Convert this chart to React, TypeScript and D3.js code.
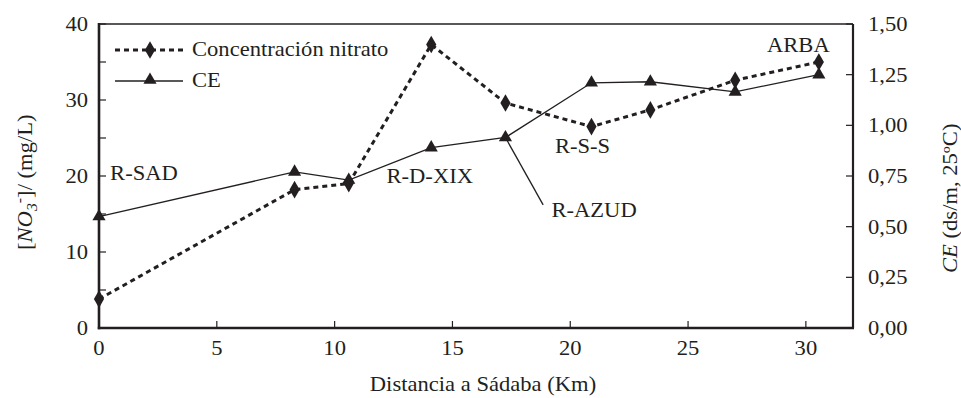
import React from "react";
import * as d3 from "d3";

// distance from Sádaba (km) for each sampling point
const distance = [0, 8.3, 10.6, 14.1, 17.25, 20.9, 23.4, 27.0, 30.55];
// nitrate concentration (mg/L), left axis
const nitrate = [3.8, 18.2, 19.0, 37.3, 29.6, 26.5, 28.7, 32.6, 35.0];
// electrical conductivity (dS/m, 25ºC), right axis
const ce = [0.55, 0.77, 0.73, 0.89, 0.94, 1.21, 1.215, 1.165, 1.25];

const xTicks = [0, 5, 10, 15, 20, 25, 30];
const leftTicks = [0, 5, 10, 15, 20, 25, 30, 35, 40];
const leftLabels = [0, 10, 20, 30, 40];
const rightTicks = [0, 0.25, 0.5, 0.75, 1, 1.25, 1.5];

// site labels, placed in km / mg/L units
const siteNames = ["R-SAD", "R-D-XIX", "R-S-S", "R-AZUD", "ARBA"];
const siteX = [0.47, 12.2, 19.35, 19.2, 28.35];
const siteY = [19.5, 19.1, 23.0, 14.6, 36.3];

const width = 961;
const height = 398;
const margin = { top: 24, right: 108, bottom: 70, left: 99 };
const font = "'Liberation Serif', 'Times New Roman', serif";
const ink = "#231f20";
const stretch = 1.13; // the source font is set a little wide

const esLocale = d3.formatLocale({
  decimal: ",",
  thousands: ".",
  grouping: [3],
  currency: ["", "€"],
});
const fmtRight = esLocale.format(".2f");

function T({ x, y, rotate = 0, anchor = "start", children }: any) {
  return (
    <text
      transform={`translate(${x},${y}) rotate(${rotate}) scale(${stretch},1)`}
      textAnchor={anchor}
      fontSize={20}
    >
      {children}
    </text>
  );
}

export default function App() {
  const x = d3
    .scaleLinear()
    .domain([0, 32])
    .range([margin.left, width - margin.right]);
  const yLeft = d3
    .scaleLinear()
    .domain([0, 40])
    .range([height - margin.bottom, margin.top]);
  const yRight = d3
    .scaleLinear()
    .domain([0, 1.5])
    .range([height - margin.bottom, margin.top]);

  const x0 = x(0);
  const x1 = x(32);
  const yb = yLeft(0);
  const yt = yLeft(40);

  const nitrateLine = d3
    .line<number>()
    .x((_, i) => x(distance[i]))
    .y((d) => yLeft(d));
  const ceLine = d3
    .line<number>()
    .x((_, i) => x(distance[i]))
    .y((d) => yRight(d));

  const diamond = d3.symbol(d3.symbolDiamond, 90)();
  const triangle = d3.symbol(d3.symbolTriangle, 75)();

  return (
    <svg
      width={width}
      height={height}
      style={{ position: "absolute", left: 0, top: 0, background: "#fff" }}
      fontFamily={font}
      fill={ink}
    >
      {/* frame */}
      <line x1={x0} x2={x1} y1={yt} y2={yt} stroke={ink} strokeWidth={1.6} />
      <line x1={x1} x2={x1} y1={yt} y2={yb} stroke={ink} strokeWidth={2.2} />
      <line x1={x0} x2={x0} y1={yt - 1} y2={yb + 1.2} stroke={ink} strokeWidth={2.6} />
      <line x1={x0 - 1.2} x2={x1 + 1} y1={yb} y2={yb} stroke={ink} strokeWidth={2.6} />

      {/* bottom axis */}
      {xTicks.map((t) => (
        <g key={"x" + t}>
          <line x1={x(t)} x2={x(t)} y1={yb} y2={yb - 7} stroke={ink} strokeWidth={1.2} />
          <T x={x(t)} y={yb + 27} anchor="middle">
            {t}
          </T>
        </g>
      ))}

      {/* left axis */}
      {leftTicks.map((t) => (
        <line key={"l" + t} x1={x0} x2={x0 + 7} y1={yLeft(t)} y2={yLeft(t)} stroke={ink} strokeWidth={1.2} />
      ))}
      {leftLabels.map((t) => (
        <T key={"ll" + t} x={x0 - 11} y={yLeft(t) + 7} anchor="end">
          {t}
        </T>
      ))}

      {/* right axis */}
      {rightTicks.map((t) => (
        <g key={"r" + t}>
          <line x1={x1} x2={x1 - 7} y1={yRight(t)} y2={yRight(t)} stroke={ink} strokeWidth={1.2} />
          <T x={x1 + 15} y={yRight(t) + 7}>
            {fmtRight(t)}
          </T>
        </g>
      ))}

      {/* axis titles */}
      <T x={483} y={391} anchor="middle">
        Distancia a Sádaba (Km)
      </T>
      <T x={32} y={250} rotate={-90}>
        [<tspan fontStyle="italic">NO</tspan>
        <tspan fontStyle="italic" fontSize={14} dy={5}>3</tspan>
        <tspan fontSize={14} dy={-13}>-</tspan>
        <tspan dy={8}>]/ (mg/L)</tspan>
      </T>
      <T x={957} y={273} rotate={-90}>
        <tspan fontStyle="italic">CE</tspan> (ds/m, 25ºC)
      </T>

      {/* CE series */}
      <path d={ceLine(ce) ?? ""} fill="none" stroke={ink} strokeWidth={1.3} />
      {ce.map((v, i) => (
        <path key={"t" + i} d={triangle} transform={`translate(${x(distance[i])},${yRight(v)})`} />
      ))}

      {/* nitrate series */}
      <path
        d={nitrateLine(nitrate) ?? ""}
        fill="none"
        stroke={ink}
        strokeWidth={3}
        strokeDasharray="5 4"
      />
      {nitrate.map((v, i) => (
        <path key={"d" + i} d={diamond} transform={`translate(${x(distance[i])},${yLeft(v)})`} />
      ))}

      {/* R-AZUD leader line */}
      <line
        x1={x(distance[4])}
        y1={yRight(ce[4])}
        x2={x(18.85)}
        y2={yLeft(16.2)}
        stroke={ink}
        strokeWidth={1.3}
      />

      {/* site labels */}
      {siteNames.map((s, i) => (
        <T key={s} x={x(siteX[i])} y={yLeft(siteY[i])}>
          {s}
        </T>
      ))}

      {/* legend */}
      <g>
        <line x1={115} x2={183} y1={50} y2={50} stroke={ink} strokeWidth={3} strokeDasharray="5 4" />
        <path d={diamond} transform="translate(150,50)" />
        <T x={192} y={56}>
          Concentración nitrato
        </T>
        <line x1={115} x2={183} y1={81} y2={81} stroke={ink} strokeWidth={1.3} />
        <path d={triangle} transform="translate(150,80)" />
        <T x={192} y={87}>
          CE
        </T>
      </g>
    </svg>
  );
}
